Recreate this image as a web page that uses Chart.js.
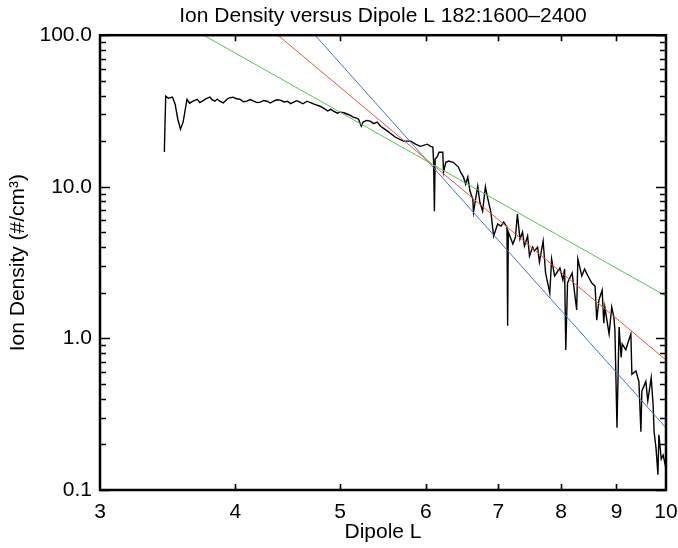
<!DOCTYPE html>
<html>
<head>
<meta charset="utf-8">
<script src="https://cdn.jsdelivr.net/npm/chart.js@4/dist/chart.umd.min.js"></script>
<style>
  html, body { margin: 0; padding: 0; background: #fff; }
  #wrap { width: 678px; height: 548px; }
</style>
</head>
<body>
<div id="wrap"><canvas id="chart"></canvas></div>
<script>
// Ion density vs dipole L, log-log, with three power-law guide lines

const dipoleL = [
    3.44, 3.45, 3.47, 3.50, 3.52, 3.54, 3.56, 3.58, 3.61, 3.63,
    3.66, 3.69, 3.71, 3.73, 3.76, 3.79, 3.81, 3.83, 3.85, 3.87,
    3.90, 3.93, 3.95, 3.98, 4.01, 4.04, 4.07, 4.10, 4.13, 4.16,
    4.19, 4.22, 4.25, 4.28, 4.31, 4.34, 4.37, 4.40, 4.44, 4.47,
    4.50, 4.53, 4.56, 4.59, 4.62, 4.66, 4.70, 4.73, 4.76, 4.79,
    4.83, 4.87, 4.90, 4.93, 4.97, 5.00, 5.04, 5.08, 5.11, 5.14,
    5.17, 5.20, 5.23, 5.25, 5.29, 5.33, 5.37, 5.41,
    5.45, 5.53, 5.62, 5.72, 5.81, 5.87, 5.93, 6.02, 6.06, 6.09,
    6.10, 6.11, 6.12, 6.15, 6.17, 6.22, 6.23, 6.26, 6.30, 6.36,
    6.43, 6.46, 6.50, 6.53, 6.56, 6.59, 6.63, 6.64, 6.70, 6.73,
    6.77, 6.81, 6.84, 6.89, 6.93, 6.99, 7.04, 7.08, 7.13, 7.14,
    7.15, 7.22, 7.26, 7.29, 7.33, 7.37, 7.40, 7.45, 7.48, 7.53,
    7.56, 7.61, 7.64, 7.70, 7.74, 7.81, 7.84, 7.89, 7.98, 8.03,
    8.06, 8.08, 8.11, 8.19, 8.24, 8.27, 8.29, 8.36, 8.41, 8.47,
    8.54, 8.60, 8.63, 8.67, 8.73, 8.76, 8.78, 8.86, 8.91, 8.95,
    8.97, 9.01, 9.05, 9.09, 9.11, 9.18, 9.24, 9.28, 9.30, 9.38,
    9.44, 9.48, 9.50, 9.58, 9.62, 9.69, 9.73, 9.75, 9.79, 9.83,
    9.85, 9.90, 9.94, 10.0
];
const ionDensity = [
    17, 39.6, 38.4, 39.0, 35.1, 27.9, 24.0, 26.7, 37.8, 35.6,
    36.9, 37.8, 35.9, 36.7, 38.2, 39.0, 37.4, 36.7, 37.9, 36.7,
    35.8, 37.8, 38.6, 39.0, 38.1, 37.8, 36.4, 36.7, 37.6, 36.7,
    35.9, 36.2, 37.1, 36.7, 35.7, 36.7, 37.5, 37.3, 36.3, 36.7,
    35.4, 36.2, 37.0, 36.2, 35.3, 36.7, 35.8, 35.1, 34.6, 34.0,
    32.9, 31.6, 32.4, 31.6, 30.6, 31.1, 30.8, 30.1, 29.6, 28.8,
    28.5, 27.9, 25.1, 26.7, 27.4, 27.1, 26.1, 26.7,
    25.1, 23.3, 21.3, 20.0, 20.0, 19.1, 18.5, 19.1, 18.5, 18.3,
    14.5, 6.9, 15.2, 15.9, 16.9, 16.9, 12.5, 14.5, 14.8, 14.5,
    13.5, 12.5, 11.6, 10.4, 11.6, 9.37, 8.30, 6.81, 10.1, 7.93,
    6.92, 10.0, 8.55, 6.81, 4.73, 5.68, 5.51, 5.85, 5.42, 1.21,
    5.03, 4.19, 4.66, 6.61, 4.52, 5.03, 4.07, 4.73, 3.49, 4.00,
    3.77, 4.00, 3.19, 4.39, 2.70, 1.99, 3.34, 2.58, 2.91, 2.43,
    2.87, 0.84, 2.32, 2.70, 1.90, 1.54, 3.34, 2.58, 2.87, 2.58,
    2.32, 2.21, 1.32, 1.79, 2.08, 1.26, 1.61, 1.07, 1.61, 1.38,
    1.14, 0.257, 1.19, 0.75, 0.92, 0.84, 0.976, 1.07, 0.58, 0.61,
    0.52, 0.242, 0.45, 0.52, 0.387, 0.55, 0.364, 0.242, 0.189, 0.126,
    0.231, 0.160, 0.170, 0.138
];

// power-law guide lines (end points)
const greenL = [3.74, 10];
const greenN = [100, 1.9];
const redL = [4.38, 10];
const redN = [100, 0.72];
const blueL = [4.74, 10];
const blueN = [100, 0.257];

const xTicks = [3, 4, 5, 6, 7, 8, 9, 10];
const yTicks = [0.1, 1, 10, 100];
const yTickLabels = ['0.1', '1.0', '10.0', '100.0'];

const FONT = "'Liberation Sans', Arial, Helvetica, sans-serif";

function toPoints(xs, ys) {
    return xs.map((x, i) => ({ x: x, y: ys[i] }));
}

// IDL-style frame with inward ticks
const framePlugin = {
    id: 'frame',
    afterDatasetsDraw(chart) {
        const ctx = chart.ctx;
        const a = chart.chartArea;
        const xs = chart.scales.x;
        const ys = chart.scales.y;
        ctx.save();
        ctx.strokeStyle = '#000';
        ctx.lineWidth = 1.6;
        ctx.beginPath();
        // x ticks (bottom and top)
        xTicks.slice(1, -1).forEach(v => {
            const px = Math.round(xs.getPixelForValue(v)) + 0.5;
            ctx.moveTo(px, a.bottom); ctx.lineTo(px, a.bottom - 6);
            ctx.moveTo(px, a.top); ctx.lineTo(px, a.top + 6);
        });
        // y ticks, major and minor (left and right)
        [0.1, 1, 10].forEach(d => {
            for (let m = 1; m <= 10; m++) {
                const py = Math.round(ys.getPixelForValue(d * m)) + 0.5;
                const len = (m === 1 || m === 10) ? 10 : 6;
                ctx.moveTo(a.left, py); ctx.lineTo(a.left + len, py);
                ctx.moveTo(a.right, py); ctx.lineTo(a.right - len, py);
            }
        });
        ctx.stroke();
        ctx.lineWidth = 2.5;
        ctx.strokeRect(a.left, a.top, a.right - a.left, a.bottom - a.top);
        ctx.restore();
    }
};

new Chart(document.getElementById('chart'), {
    type: 'line',
    plugins: [framePlugin],
    data: {
        datasets: [
            {
                data: toPoints(greenL, greenN),
                borderColor: '#5cbf52',
                borderWidth: 1
            },
            {
                data: toPoints(redL, redN),
                borderColor: '#e8553b',
                borderWidth: 1
            },
            {
                data: toPoints(blueL, blueN),
                borderColor: '#3c78c8',
                borderWidth: 1
            },
            {
                data: toPoints(dipoleL, ionDensity),
                borderColor: '#000',
                borderWidth: 1.4
            }
        ]
    },
    options: {
        responsive: true,
        maintainAspectRatio: false,
        animation: false,
        layout: {
            padding: { left: 0, right: 12, top: 0, bottom: 0 }
        },
        elements: {
            point: { radius: 0 },
            line: { tension: 0 }
        },
        plugins: {
            legend: { display: false },
            tooltip: { enabled: false },
            title: {
                display: true,
                fullSize: false,
                text: 'Ion Density versus Dipole L 182:1600\u20132400',
                color: '#000',
                font: { family: FONT, size: 21, weight: 'normal' },
                padding: { top: 4, bottom: 6 }
            }
        },
        scales: {
            x: {
                type: 'logarithmic',
                min: 3,
                max: 10,
                afterBuildTicks: scale => {
                    scale.ticks = xTicks.map(v => ({ value: v }));
                },
                afterFit: scale => {
                    scale.height = 58;
                    scale.paddingLeft = 0;
                    scale.paddingRight = 0;
                },
                grid: { display: false, drawTicks: false },
                border: { display: false },
                ticks: {
                    autoSkip: false,
                    maxRotation: 0,
                    padding: 10,
                    color: '#000',
                    font: { family: FONT, size: 21 },
                    callback: v => String(v)
                },
                title: {
                    display: true,
                    text: 'Dipole L',
                    color: '#000',
                    font: { family: FONT, size: 21 },
                    padding: { top: 0, bottom: 3 }
                }
            },
            y: {
                type: 'logarithmic',
                min: 0.1,
                max: 100,
                afterBuildTicks: scale => {
                    scale.ticks = yTicks.map(v => ({ value: v }));
                },
                afterFit: scale => { scale.width = 100; },
                grid: { display: false, drawTicks: false },
                border: { display: false },
                ticks: {
                    autoSkip: false,
                    padding: 8,
                    color: '#000',
                    font: { family: FONT, size: 21 },
                    callback: (v) => yTickLabels[yTicks.indexOf(v)]
                },
                title: {
                    display: true,
                    text: 'Ion Density (#/cm\u00b3)',
                    color: '#000',
                    font: { family: FONT, size: 21 },
                    padding: { top: 6, bottom: 0 }
                }
            }
        }
    }
});
</script>
</body>
</html>
